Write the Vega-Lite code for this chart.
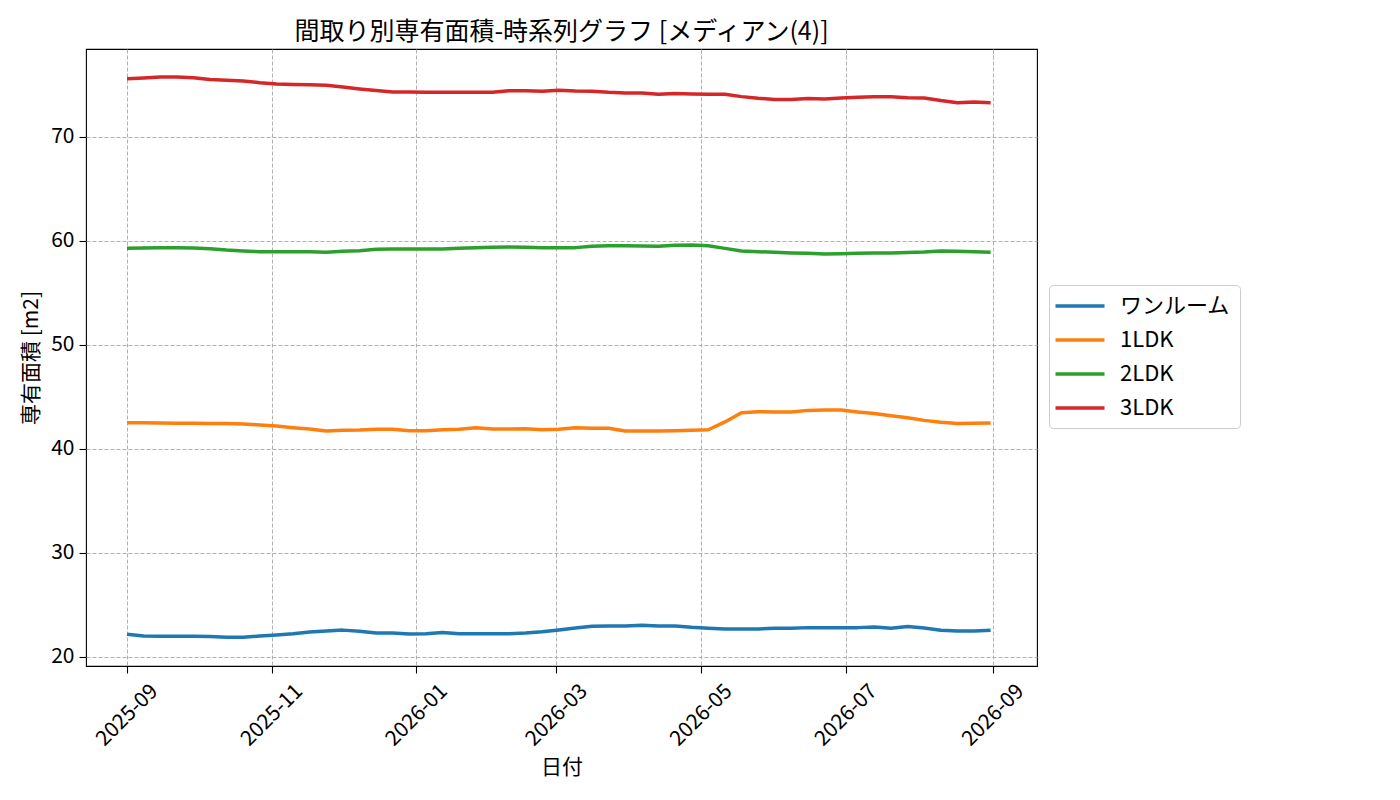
{
"$schema":"https://vega.github.io/schema/vega-lite/v6.json",
"autosize":{"type":"none"},
"padding":{"left":86,"top":49,"right":363,"bottom":134},
"width":951,
"height":617,
"background":"white",
"config":{
"font":"Noto Sans CJK JP",
"view":{"stroke":"black","strokeWidth":1.1},
"axis":{"domain":false,"grid":true,"gridColor":"#b0b0b0","gridDash":[4,2],"gridWidth":1,"tickColor":"black","tickWidth":1.1,"tickSize":7,"labelColor":"black","titleColor":"black","labelFont":"Noto Sans CJK JP","titleFont":"Noto Sans CJK JP","labelFontSize":21,"titleFontSize":21,"titleFontWeight":"normal"}
},
"title":{"text":"間取り別専有面積-時系列グラフ [メディアン(4)]","font":"Noto Sans CJK JP","fontSize":25,"fontWeight":"normal","color":"black","anchor":"middle","offset":4},
"data":{"values":[
{"date":"2025-09-01","type":"ワンルーム","area":22.18},{"date":"2025-09-08","type":"ワンルーム","area":22.02},{"date":"2025-09-15","type":"ワンルーム","area":21.99},{"date":"2025-09-22","type":"ワンルーム","area":21.99},{"date":"2025-09-29","type":"ワンルーム","area":21.99},{"date":"2025-10-06","type":"ワンルーム","area":21.96},{"date":"2025-10-13","type":"ワンルーム","area":21.89},{"date":"2025-10-20","type":"ワンルーム","area":21.89},{"date":"2025-10-27","type":"ワンルーム","area":22.02},{"date":"2025-11-03","type":"ワンルーム","area":22.12},
{"date":"2025-11-10","type":"ワンルーム","area":22.24},{"date":"2025-11-17","type":"ワンルーム","area":22.4},{"date":"2025-11-24","type":"ワンルーム","area":22.5},{"date":"2025-12-01","type":"ワンルーム","area":22.58},{"date":"2025-12-08","type":"ワンルーム","area":22.47},{"date":"2025-12-15","type":"ワンルーム","area":22.31},{"date":"2025-12-22","type":"ワンルーム","area":22.31},{"date":"2025-12-29","type":"ワンルーム","area":22.21},{"date":"2026-01-05","type":"ワンルーム","area":22.24},{"date":"2026-01-12","type":"ワンルーム","area":22.34},
{"date":"2026-01-19","type":"ワンルーム","area":22.24},{"date":"2026-01-26","type":"ワンルーム","area":22.24},{"date":"2026-02-02","type":"ワンルーム","area":22.24},{"date":"2026-02-09","type":"ワンルーム","area":22.24},{"date":"2026-02-16","type":"ワンルーム","area":22.3},{"date":"2026-02-23","type":"ワンルーム","area":22.42},{"date":"2026-03-02","type":"ワンルーム","area":22.6},{"date":"2026-03-09","type":"ワンルーム","area":22.78},{"date":"2026-03-16","type":"ワンルーム","area":22.96},{"date":"2026-03-23","type":"ワンルーム","area":22.98},
{"date":"2026-03-30","type":"ワンルーム","area":22.98},{"date":"2026-04-06","type":"ワンルーム","area":23.06},{"date":"2026-04-13","type":"ワンルーム","area":22.98},{"date":"2026-04-20","type":"ワンルーム","area":22.98},{"date":"2026-04-27","type":"ワンルーム","area":22.85},{"date":"2026-05-04","type":"ワンルーム","area":22.76},{"date":"2026-05-11","type":"ワンルーム","area":22.69},{"date":"2026-05-18","type":"ワンルーム","area":22.69},{"date":"2026-05-25","type":"ワンルーム","area":22.69},{"date":"2026-06-01","type":"ワンルーム","area":22.76},
{"date":"2026-06-08","type":"ワンルーム","area":22.76},{"date":"2026-06-15","type":"ワンルーム","area":22.82},{"date":"2026-06-22","type":"ワンルーム","area":22.82},{"date":"2026-06-29","type":"ワンルーム","area":22.82},{"date":"2026-07-06","type":"ワンルーム","area":22.82},{"date":"2026-07-13","type":"ワンルーム","area":22.88},{"date":"2026-07-20","type":"ワンルーム","area":22.76},{"date":"2026-07-27","type":"ワンルーム","area":22.92},{"date":"2026-08-03","type":"ワンルーム","area":22.79},{"date":"2026-08-10","type":"ワンルーム","area":22.56},
{"date":"2026-08-17","type":"ワンルーム","area":22.5},{"date":"2026-08-24","type":"ワンルーム","area":22.5},{"date":"2026-08-31","type":"ワンルーム","area":22.56},
{"date":"2025-09-01","type":"1LDK","area":42.53},{"date":"2025-09-08","type":"1LDK","area":42.53},{"date":"2025-09-15","type":"1LDK","area":42.5},{"date":"2025-09-22","type":"1LDK","area":42.47},{"date":"2025-09-29","type":"1LDK","area":42.47},{"date":"2025-10-06","type":"1LDK","area":42.44},{"date":"2025-10-13","type":"1LDK","area":42.44},{"date":"2025-10-20","type":"1LDK","area":42.41},{"date":"2025-10-27","type":"1LDK","area":42.31},{"date":"2025-11-03","type":"1LDK","area":42.21},
{"date":"2025-11-10","type":"1LDK","area":42.05},{"date":"2025-11-17","type":"1LDK","area":41.92},{"date":"2025-11-24","type":"1LDK","area":41.73},{"date":"2025-12-01","type":"1LDK","area":41.79},{"date":"2025-12-08","type":"1LDK","area":41.82},{"date":"2025-12-15","type":"1LDK","area":41.89},{"date":"2025-12-22","type":"1LDK","area":41.89},{"date":"2025-12-29","type":"1LDK","area":41.76},{"date":"2026-01-05","type":"1LDK","area":41.76},{"date":"2026-01-12","type":"1LDK","area":41.85},
{"date":"2026-01-19","type":"1LDK","area":41.89},{"date":"2026-01-26","type":"1LDK","area":42.05},{"date":"2026-02-02","type":"1LDK","area":41.92},{"date":"2026-02-09","type":"1LDK","area":41.92},{"date":"2026-02-16","type":"1LDK","area":41.95},{"date":"2026-02-23","type":"1LDK","area":41.85},{"date":"2026-03-02","type":"1LDK","area":41.89},{"date":"2026-03-09","type":"1LDK","area":42.05},{"date":"2026-03-16","type":"1LDK","area":41.99},{"date":"2026-03-23","type":"1LDK","area":41.99},
{"date":"2026-03-30","type":"1LDK","area":41.73},{"date":"2026-04-06","type":"1LDK","area":41.73},{"date":"2026-04-13","type":"1LDK","area":41.73},{"date":"2026-04-20","type":"1LDK","area":41.76},{"date":"2026-04-27","type":"1LDK","area":41.8},{"date":"2026-05-04","type":"1LDK","area":41.85},{"date":"2026-05-11","type":"1LDK","area":42.6},{"date":"2026-05-18","type":"1LDK","area":43.48},{"date":"2026-05-25","type":"1LDK","area":43.58},{"date":"2026-06-01","type":"1LDK","area":43.55},
{"date":"2026-06-08","type":"1LDK","area":43.55},{"date":"2026-06-15","type":"1LDK","area":43.71},{"date":"2026-06-22","type":"1LDK","area":43.74},{"date":"2026-06-29","type":"1LDK","area":43.74},{"date":"2026-07-06","type":"1LDK","area":43.55},{"date":"2026-07-13","type":"1LDK","area":43.42},{"date":"2026-07-20","type":"1LDK","area":43.2},{"date":"2026-07-27","type":"1LDK","area":43.0},{"date":"2026-08-03","type":"1LDK","area":42.75},{"date":"2026-08-10","type":"1LDK","area":42.56},
{"date":"2026-08-17","type":"1LDK","area":42.44},{"date":"2026-08-24","type":"1LDK","area":42.47},{"date":"2026-08-31","type":"1LDK","area":42.5},
{"date":"2025-09-01","type":"2LDK","area":59.29},{"date":"2025-09-08","type":"2LDK","area":59.33},{"date":"2025-09-15","type":"2LDK","area":59.36},{"date":"2025-09-22","type":"2LDK","area":59.36},{"date":"2025-09-29","type":"2LDK","area":59.33},{"date":"2025-10-06","type":"2LDK","area":59.26},{"date":"2025-10-13","type":"2LDK","area":59.13},{"date":"2025-10-20","type":"2LDK","area":59.04},{"date":"2025-10-27","type":"2LDK","area":58.97},{"date":"2025-11-03","type":"2LDK","area":58.97},
{"date":"2025-11-10","type":"2LDK","area":58.97},{"date":"2025-11-17","type":"2LDK","area":58.97},{"date":"2025-11-24","type":"2LDK","area":58.91},{"date":"2025-12-01","type":"2LDK","area":59.01},{"date":"2025-12-08","type":"2LDK","area":59.07},{"date":"2025-12-15","type":"2LDK","area":59.2},{"date":"2025-12-22","type":"2LDK","area":59.23},{"date":"2025-12-29","type":"2LDK","area":59.23},{"date":"2026-01-05","type":"2LDK","area":59.23},{"date":"2026-01-12","type":"2LDK","area":59.23},
{"date":"2026-01-19","type":"2LDK","area":59.29},{"date":"2026-01-26","type":"2LDK","area":59.36},{"date":"2026-02-02","type":"2LDK","area":59.39},{"date":"2026-02-09","type":"2LDK","area":59.42},{"date":"2026-02-16","type":"2LDK","area":59.39},{"date":"2026-02-23","type":"2LDK","area":59.36},{"date":"2026-03-02","type":"2LDK","area":59.36},{"date":"2026-03-09","type":"2LDK","area":59.36},{"date":"2026-03-16","type":"2LDK","area":59.49},{"date":"2026-03-23","type":"2LDK","area":59.55},
{"date":"2026-03-30","type":"2LDK","area":59.55},{"date":"2026-04-06","type":"2LDK","area":59.52},{"date":"2026-04-13","type":"2LDK","area":59.49},{"date":"2026-04-20","type":"2LDK","area":59.58},{"date":"2026-04-27","type":"2LDK","area":59.62},{"date":"2026-05-04","type":"2LDK","area":59.55},{"date":"2026-05-11","type":"2LDK","area":59.29},{"date":"2026-05-18","type":"2LDK","area":59.04},{"date":"2026-05-25","type":"2LDK","area":58.97},{"date":"2026-06-01","type":"2LDK","area":58.91},
{"date":"2026-06-08","type":"2LDK","area":58.85},{"date":"2026-06-15","type":"2LDK","area":58.81},{"date":"2026-06-22","type":"2LDK","area":58.75},{"date":"2026-06-29","type":"2LDK","area":58.78},{"date":"2026-07-06","type":"2LDK","area":58.81},{"date":"2026-07-13","type":"2LDK","area":58.85},{"date":"2026-07-20","type":"2LDK","area":58.85},{"date":"2026-07-27","type":"2LDK","area":58.88},{"date":"2026-08-03","type":"2LDK","area":58.94},{"date":"2026-08-10","type":"2LDK","area":59.04},
{"date":"2026-08-17","type":"2LDK","area":59.01},{"date":"2026-08-24","type":"2LDK","area":58.97},{"date":"2026-08-31","type":"2LDK","area":58.91},
{"date":"2025-09-01","type":"3LDK","area":75.6},{"date":"2025-09-08","type":"3LDK","area":75.67},{"date":"2025-09-15","type":"3LDK","area":75.77},{"date":"2025-09-22","type":"3LDK","area":75.77},{"date":"2025-09-29","type":"3LDK","area":75.7},{"date":"2025-10-06","type":"3LDK","area":75.52},{"date":"2025-10-13","type":"3LDK","area":75.46},{"date":"2025-10-20","type":"3LDK","area":75.38},{"date":"2025-10-27","type":"3LDK","area":75.22},{"date":"2025-11-03","type":"3LDK","area":75.1},
{"date":"2025-11-10","type":"3LDK","area":75.05},{"date":"2025-11-17","type":"3LDK","area":75.03},{"date":"2025-11-24","type":"3LDK","area":74.98},{"date":"2025-12-01","type":"3LDK","area":74.8},{"date":"2025-12-08","type":"3LDK","area":74.62},{"date":"2025-12-15","type":"3LDK","area":74.46},{"date":"2025-12-22","type":"3LDK","area":74.33},{"date":"2025-12-29","type":"3LDK","area":74.33},{"date":"2026-01-05","type":"3LDK","area":74.3},{"date":"2026-01-12","type":"3LDK","area":74.3},
{"date":"2026-01-19","type":"3LDK","area":74.3},{"date":"2026-01-26","type":"3LDK","area":74.3},{"date":"2026-02-02","type":"3LDK","area":74.3},{"date":"2026-02-09","type":"3LDK","area":74.45},{"date":"2026-02-16","type":"3LDK","area":74.45},{"date":"2026-02-23","type":"3LDK","area":74.4},{"date":"2026-03-02","type":"3LDK","area":74.5},{"date":"2026-03-09","type":"3LDK","area":74.43},{"date":"2026-03-16","type":"3LDK","area":74.4},{"date":"2026-03-23","type":"3LDK","area":74.3},
{"date":"2026-03-30","type":"3LDK","area":74.24},{"date":"2026-04-06","type":"3LDK","area":74.24},{"date":"2026-04-13","type":"3LDK","area":74.12},{"date":"2026-04-20","type":"3LDK","area":74.17},{"date":"2026-04-27","type":"3LDK","area":74.14},{"date":"2026-05-04","type":"3LDK","area":74.1},{"date":"2026-05-11","type":"3LDK","area":74.1},{"date":"2026-05-18","type":"3LDK","area":73.88},{"date":"2026-05-25","type":"3LDK","area":73.72},{"date":"2026-06-01","type":"3LDK","area":73.6},
{"date":"2026-06-08","type":"3LDK","area":73.6},{"date":"2026-06-15","type":"3LDK","area":73.69},{"date":"2026-06-22","type":"3LDK","area":73.66},{"date":"2026-06-29","type":"3LDK","area":73.75},{"date":"2026-07-06","type":"3LDK","area":73.82},{"date":"2026-07-13","type":"3LDK","area":73.88},{"date":"2026-07-20","type":"3LDK","area":73.88},{"date":"2026-07-27","type":"3LDK","area":73.78},{"date":"2026-08-03","type":"3LDK","area":73.75},{"date":"2026-08-10","type":"3LDK","area":73.5},
{"date":"2026-08-17","type":"3LDK","area":73.3},{"date":"2026-08-24","type":"3LDK","area":73.36},{"date":"2026-08-31","type":"3LDK","area":73.3}
]},
"mark":{"type":"line","strokeWidth":3.5,"strokeJoin":"round"},
"encoding":{
"x":{"field":"date","type":"temporal","title":"日付",
"scale":{"type":"utc","domain":[{"year":2025,"month":8,"date":14,"hours":17,"minutes":15,"utc":true},{"year":2026,"month":9,"date":19,"hours":13,"minutes":0,"utc":true}],"nice":false},
"axis":{"values":[{"year":2025,"month":9,"date":1,"utc":true},{"year":2025,"month":11,"date":1,"utc":true},{"year":2026,"month":1,"date":1,"utc":true},{"year":2026,"month":3,"date":1,"utc":true},{"year":2026,"month":5,"date":1,"utc":true},{"year":2026,"month":7,"date":1,"utc":true},{"year":2026,"month":9,"date":1,"utc":true}],
"format":"%Y-%m","labelAngle":-45,"labelAlign":"center","labelBaseline":"middle","labelPadding":42,"labelFlush":false,"labelOverlap":false,"titleY":101,"titleBaseline":"middle","titleAnchor":"middle"}},
"y":{"field":"area","type":"quantitative","title":"専有面積 [m2]",
"scale":{"domain":[19.13,78.46],"nice":false,"zero":false},
"axis":{"values":[20,30,40,50,60,70],"labelPadding":5,"titleX":-55,"titleY":308.5,"titleBaseline":"middle","titleAngle":-90}},
"color":{"field":"type","type":"nominal","sort":null,
"scale":{"domain":["ワンルーム","1LDK","2LDK","3LDK"],"range":["#1f77b4","#ff7f0e","#2ca02c","#d62728"]},
"legend":{"title":null,"orient":"none","legendX":963,"legendY":236,"symbolType":"M-2.45,0H2.45","symbolSize":400,"symbolStrokeWidth":3.5,"symbolOffset":10,"labelOffset":28,"labelFontSize":22,"labelFont":"Noto Sans CJK JP","labelColor":"black","rowPadding":11,"padding":9,"strokeColor":"#cccccc","fillColor":"white","cornerRadius":4}}
}
}
